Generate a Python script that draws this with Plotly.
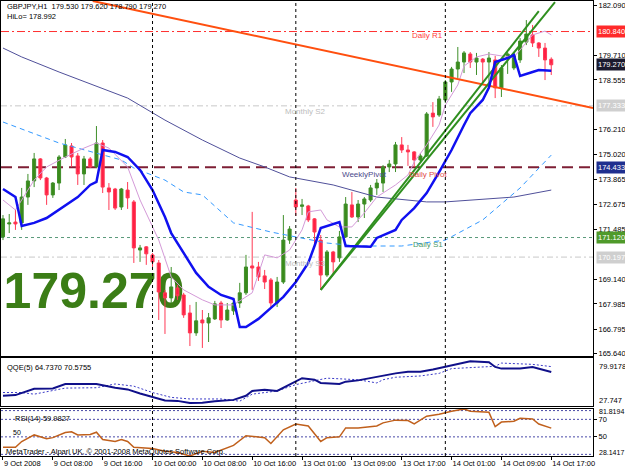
import plotly.graph_objects as go

# ---------------- data ----------------
bar_index = list(range(89))
open_p = [171.15,171.76,171.85,171.81,173.03,173.79,174.83,173.93,173.13,173.69,
          174.92,175.44,174.97,174.12,174.83,174.45,175.58,173.46,173.41,172.56,
          173.36,172.80,170.53,170.68,170.30,169.92,168.51,168.27,168.74,168.41,
          167.56,166.62,167.23,167.09,167.28,168.03,167.23,167.66,168.03,168.51,
          169.78,169.73,169.31,169.12,168.03,169.02,171.00,172.89,172.59,172.61,
          172.00,171.00,169.35,170.44,170.16,171.15,172.66,172.09,172.70,172.89,
          173.46,173.69,174.45,174.59,175.49,175.25,175.16,174.78,174.97,176.99,
          176.90,177.61,178.46,179.07,179.40,179.78,179.40,179.54,179.40,179.50,
          178.18,179.69,179.12,179.50,180.34,180.68,180.30,180.06,179.53]
high_p = [172.18,172.23,172.42,173.46,174.12,175.11,174.87,173.98,173.74,175.01,
          175.77,175.58,175.11,174.97,174.92,176.38,175.72,173.69,173.46,173.46,
          173.74,172.89,170.77,170.72,170.39,170.06,168.65,169.73,168.88,168.51,
          167.94,168.08,167.70,167.56,168.13,168.13,168.03,168.13,168.98,170.30,
          172.33,169.97,169.59,169.21,169.26,172.18,171.66,173.46,172.94,172.66,
          172.04,171.24,170.53,170.49,171.43,173.03,173.27,172.89,173.03,173.60,
          173.88,174.54,174.78,175.63,175.86,175.49,175.20,175.11,177.04,177.51,
          177.80,178.55,179.17,180.11,179.92,179.87,179.83,179.59,179.87,179.69,
          179.26,179.87,179.87,180.53,181.38,181.15,180.34,180.30,179.62]
low_p = [171.00,171.33,171.48,171.48,172.66,173.50,173.83,172.66,172.99,173.36,
         174.87,174.45,173.60,173.60,174.40,174.40,173.22,172.42,172.42,172.42,
         172.47,169.92,169.97,169.83,169.73,167.23,166.57,168.03,168.18,167.33,
         166.00,166.48,165.91,166.19,167.23,166.85,167.19,167.47,167.80,168.41,
         168.65,169.07,168.69,167.80,167.84,168.93,170.82,172.14,172.18,171.85,
         170.68,168.65,169.26,169.40,169.97,171.10,172.04,171.85,172.04,172.80,
         173.13,173.27,174.21,174.21,175.11,174.50,174.45,174.68,174.92,176.34,
         176.81,177.47,177.99,178.65,178.88,179.12,178.79,178.46,178.36,177.70,
         177.75,178.84,179.02,179.36,180.20,180.11,179.64,178.55,178.79]
close_p = [172.00,171.81,171.76,173.03,173.79,174.83,173.93,173.13,173.69,174.92,
           175.49,174.92,174.12,174.83,174.45,175.58,173.50,173.27,172.51,173.41,
           172.99,170.63,170.63,170.35,169.97,168.55,168.27,168.79,168.37,167.47,
           166.62,167.19,167.09,167.33,167.99,167.23,167.70,168.03,168.51,169.73,
           169.68,169.26,169.02,168.03,169.02,171.00,171.52,172.56,172.66,171.95,
           171.38,169.35,170.44,169.97,171.15,172.70,172.09,172.70,172.94,173.46,
           173.69,174.45,174.59,175.49,175.25,175.16,174.78,174.97,176.95,176.81,
           177.66,178.46,179.07,179.40,179.83,179.40,179.59,179.40,179.59,178.18,
           179.12,179.78,179.73,180.39,180.72,180.30,180.06,179.50,179.27]

tick_idx = [0, 8, 16, 24, 32, 40, 48, 56, 64, 72, 80, 88]
tick_txt = ["9 Oct 2008", "9 Oct 08:00", "9 Oct 16:00", "10 Oct 00:00", "10 Oct 08:00",
            "10 Oct 16:00", "13 Oct 01:00", "13 Oct 09:00", "13 Oct 17:00",
            "14 Oct 01:00", "14 Oct 09:00", "14 Oct 17:00"]
day_sep = [24, 47, 71]
price_ticks = [182.090, 179.710, 178.555, 176.210, 175.020, 173.865, 172.675,
               171.485, 169.140, 167.985, 166.795, 165.640]

# HiLo activator (thick blue)
hilo_x = [0, 2, 3, 5, 7, 9, 12, 14, 15, 16, 18, 20, 22, 24, 26, 27, 29, 31, 33, 35, 37, 38,
          39, 41, 43, 45, 47, 49, 50, 51, 54, 55, 59, 60, 63, 64, 66, 68, 70, 72, 74, 75,
          77, 78, 79, 81, 82, 83, 85, 86, 88]
hilo_y = [173.41, 173.03, 171.66, 171.81, 172.04, 172.42, 173.03, 173.60, 173.74, 175.25,
          175.16, 174.92, 174.31, 173.36, 172.09, 171.33, 170.39, 169.45, 168.79, 168.41,
          168.22, 166.90, 166.90, 167.28, 167.80, 168.32, 169.02, 169.92, 170.72, 171.57,
          171.85, 170.72, 170.68, 171.10, 171.48, 171.95, 172.51, 173.22, 174.21, 175.25,
          176.43, 176.99, 177.61, 178.20, 179.40, 179.59, 179.73, 178.74, 178.93, 179.02,
          178.99]
# plum average
plum_x = [0, 2, 5, 7, 10, 13, 15, 17, 20, 22, 25, 27, 29, 32, 34, 37, 40, 42, 44, 46, 48,
          49, 51, 52, 54, 56, 58, 60, 63, 65, 66, 68, 70, 71, 73, 74, 76, 78, 80, 82, 83,
          85, 87, 88]
plum_y = [172.89, 172.42, 173.83, 174.45, 174.92, 175.34, 175.58, 175.34, 174.45, 172.89,
          171.00, 169.26, 168.65, 168.18, 167.94, 167.94, 168.51, 170.30, 170.16, 170.53,
          171.48, 172.33, 172.42, 171.95, 171.62, 171.62, 172.28, 173.03, 173.60, 174.07,
          174.68, 175.49, 176.43, 177.37, 178.32, 179.21, 179.64, 179.78, 179.69, 179.64,
          179.97, 180.68, 180.86, 180.68]
# slow average (dark slate blue)
slate_x = [0, 3, 9, 20, 26, 32, 38, 42, 46, 49, 53, 60, 68, 71, 77, 82, 88]
slate_y = [180.06, 179.64, 178.93, 177.70, 176.66, 175.72, 174.87, 174.45, 173.98, 173.83,
           173.60, 173.03, 172.80, 172.80, 172.94, 173.03, 173.36]
# light blue dashed band
lblue_x = [0, 9, 19, 21, 26, 29, 32, 37, 43, 48, 52, 57, 64, 71, 77, 83, 88]
lblue_y = [176.57, 175.58, 174.78, 174.40, 173.83, 173.27, 173.13, 171.81, 171.38, 171.10,
           170.86, 170.72, 170.72, 171.00, 171.95, 173.46, 175.01]
# trend lines (anchor points)
orange_x = [14.4, 94.7]
orange_y = [182.28, 177.23]
green1_x = [51, 86]
green1_y = [168.65, 181.80]
green2_x = [51, 88.6]
green2_y = [168.65, 182.23]

daily_r1 = 180.840
monthly_s2 = 177.333
pivot = 174.433
daily_s1 = 171.120
monthly_s3 = 170.197
last_price = 179.270

qqe_x = [0, 2, 5, 8, 10, 12, 15, 18, 20, 22, 24, 26, 28, 30, 32, 34, 37, 39, 40, 42, 44, 46,
         48, 50, 51, 54, 55, 57, 60, 63, 65, 67, 69, 71, 73, 75, 78, 79, 80, 83, 85, 87, 88]
qqe_y = [38.9, 39.6, 46.5, 46.9, 51.7, 51.4, 51.7, 47.6, 45.8, 41.3, 37.8, 33.7, 33.3, 30.9,
         31.2, 33.0, 34.4, 38.9, 44.1, 45.5, 44.1, 51.0, 58.0, 56.3, 52.8, 51.7, 54.2, 55.6,
         59.7, 63.2, 64.9, 64.9, 67.4, 70.2, 73.7, 76.4, 75.4, 70.2, 68.4, 68.4, 70.2, 66.7,
         64.737]
qsig_x = [0, 3, 5, 8, 10, 15, 18, 21, 24, 27, 30, 35, 38, 40, 44, 47, 52, 57, 60, 61, 63,
          67, 70, 72, 76, 79, 80, 85, 88]
qsig_y = [42.4, 42.4, 40.6, 44.1, 47.2, 47.6, 51.7, 49.3, 42.4, 37.1, 35.4, 35.4, 33.0, 40.6,
          44.1, 51.0, 58.0, 56.3, 52.8, 56.3, 59.0, 60.4, 63.2, 68.4, 70.2, 70.9, 74.4, 73.0,
          70.5755]
rsi_x = [0, 2, 3, 5, 7, 8, 10, 11, 12, 14, 15, 16, 18, 19, 20, 21, 24, 26, 28, 30, 32, 34,
         37, 39, 42, 43, 45, 47, 49, 51, 52, 54, 55, 57, 60, 61, 63, 65, 66, 68, 70, 72, 74,
         75, 78, 79, 80, 82, 83, 85, 86, 88]
rsi_y = [38.0, 38.0, 44.7, 52.2, 47.8, 49.1, 54.9, 55.8, 52.2, 52.7, 55.3, 46.9, 44.7, 46.9,
         44.7, 38.0, 36.7, 33.6, 32.2, 28.2, 33.6, 32.2, 40.2, 51.3, 49.1, 42.4, 58.0, 64.7,
         62.4, 44.7, 49.1, 50.0, 60.2, 60.2, 62.4, 66.0, 69.1, 68.7, 64.7, 73.6, 75.8, 79.3,
         81.8, 79.3, 78.0, 61.6, 66.9, 67.8, 71.3, 70.4, 64.7, 59.98]
rsi_levels = [80, 70, 50, 30]

# ---------------- layout helpers ----------------
def fx(px):
    return (px - 1) / 592.0

def fy(py):
    return (456 - py) / 455.0

FONT = "Liberation Sans"
XR = [-0.32, 94.7]
YR = [165.53, 182.28]

fig = go.Figure()

# big price label (under candles)
fig.add_trace(go.Scatter(x=[14.6], y=[168.40], mode="text", text=["179.270"],
                         textposition="middle center",
                         textfont=dict(family=FONT, size=50, color="#3b7d16", weight="bold"),
                         xaxis="x", yaxis="y", hoverinfo="skip", showlegend=False))

fig.add_trace(go.Candlestick(
    x=bar_index, open=open_p, high=high_p, low=low_p, close=close_p,
    increasing=dict(line=dict(color="#3f8f2a", width=1), fillcolor="#3a8a1a"),
    decreasing=dict(line=dict(color="#ff3a55", width=1), fillcolor="#ff1f44"),
    whiskerwidth=0, xaxis="x", yaxis="y4", showlegend=False))

fig.add_trace(go.Scatter(x=slate_x, y=slate_y, mode="lines",
                         line=dict(color="#50509a", width=1), xaxis="x", yaxis="y4"))
fig.add_trace(go.Scatter(x=lblue_x, y=lblue_y, mode="lines",
                         line=dict(color="#3399ff", width=1, dash="5px,4px"), xaxis="x", yaxis="y4"))
fig.add_trace(go.Scatter(x=plum_x, y=plum_y, mode="lines",
                         line=dict(color="#d49ad8", width=1), xaxis="x", yaxis="y4"))
fig.add_trace(go.Scatter(x=orange_x, y=orange_y, mode="lines",
                         line=dict(color="#ff4f0f", width=2), xaxis="x", yaxis="y4"))
fig.add_trace(go.Scatter(x=green1_x, y=green1_y, mode="lines",
                         line=dict(color="#2f8f1f", width=2), xaxis="x", yaxis="y4"))
fig.add_trace(go.Scatter(x=green2_x, y=green2_y, mode="lines",
                         line=dict(color="#2f8f1f", width=2), xaxis="x", yaxis="y4"))
fig.add_trace(go.Scatter(x=hilo_x, y=hilo_y, mode="lines",
                         line=dict(color="#1010f0", width=2.5), xaxis="x", yaxis="y4"))

# QQE
fig.add_trace(go.Scatter(x=qsig_x, y=qsig_y, mode="lines",
                         line=dict(color="#3a3ac8", width=1, dash="2px,2px"), xaxis="x2", yaxis="y2"))
fig.add_trace(go.Scatter(x=qqe_x, y=qqe_y, mode="lines",
                         line=dict(color="#10108a", width=2), xaxis="x2", yaxis="y2"))
# RSI
fig.add_trace(go.Scatter(x=rsi_x, y=rsi_y, mode="lines",
                         line=dict(color="#c0601c", width=1.5), xaxis="x3", yaxis="y3"))

shapes = []
for d in day_sep:
    shapes.append(dict(type="line", xref="x", yref="paper", x0=d, x1=d, y0=0, y1=1,
                       line=dict(color="black", width=1, dash="3px,3px"), layer="above"))
level_styles = [
    (daily_r1, "#ff3030", 1, "8px,3px,2px,3px"),
    (monthly_s2, "#c8c8c8", 1, "6px,3px,2px,3px"),
    (monthly_s3, "#c8c8c8", 1, "6px,3px,2px,3px"),
    (daily_s1, "#5a9a7a", 1, "3px,3px"),
    (pivot, "#7e1f35", 2, "11px,6px"),
]
for val, col, w, dash in level_styles:
    shapes.append(dict(type="line", xref="x domain", yref="y", x0=0, x1=1, y0=val, y1=val,
                       line=dict(color=col, width=w, dash=dash), layer="below"))
for lv in rsi_levels:
    shapes.append(dict(type="line", xref="x3 domain", yref="y3", x0=0, x1=1, y0=lv, y1=lv,
                       line=dict(color="#4a4aa8", width=1, dash="2px,2px"), layer="below"))

ann = []
def txt(x, y, s, color="black", size=7.5, xa="left", ya="middle"):
    ann.append(dict(xref="paper", yref="paper", x=fx(x), y=fy(y), text=s, showarrow=False,
                    xanchor=xa, yanchor=ya, font=dict(family=FONT, size=size, color=color)))

txt(5, 7, "GBPJPY,H1\u00a0\u00a0179.530 179.620 178.790 179.270")
txt(5, 17, "HiLo= 178.992")
txt(410, 36, "Daily R1", "#ff4040", 8)
txt(283, 111, "Monthly S2", "#bdbdbd", 8)
txt(340, 174, "WeeklyPivot", "#4a4a8a", 8)
txt(407, 174, "Daily Pivot", "#e04a4a", 8)
txt(411, 244, "Daily S1", "#4a9a6a", 8)
txt(283, 263, "Monthly S3", "#bdbdbd", 8)
txt(5, 367, "QQE(5) 64.7370 70.5755")
txt(13, 418, "RSI(14) 59.9827")
txt(4, 451, "MetaTrader - Alpari UK, \u00a9 2001-2008 MetaQuotes Software Corp.")
txt(11, 432, "50", size=7)
txt(597, 366, "79.9178")
txt(597, 400, "27.747")
txt(597, 411, "81.8194", size=7)
txt(597, 452, "28.1417", size=7)

boxes = [(daily_r1, "#ff2a2a"), (last_price, "#1a1a2e"), (monthly_s2, "#cfcfcf"),
         (pivot, "#1f2f8f"), (daily_s1, "#4f9a2a"), (monthly_s3, "#cfcfcf")]
for val, col in boxes:
    ann.append(dict(xref="paper", yref="y", x=1, y=val, xanchor="left", yanchor="middle",
                    xshift=3, text="%.3f" % val, showarrow=False, bgcolor=col, borderpad=1,
                    font=dict(family=FONT, size=7.5, color="white")))

axis_common = dict(showgrid=False, zeroline=False, showline=True, mirror=True,
                   linecolor="black", linewidth=1)

fig.update_layout(
    width=625, height=469,
    margin=dict(l=1, r=32, t=1, b=13, autoexpand=False),
    paper_bgcolor="white", plot_bgcolor="rgba(0,0,0,0)",
    showlegend=False,
    font=dict(family=FONT, size=7.5, color="black"),
    xaxis=dict(range=XR, domain=[0, 1], anchor="y", showticklabels=False, ticks="",
               rangeslider=dict(visible=False), **axis_common),
    xaxis2=dict(range=XR, domain=[0, 1], anchor="y2", matches="x", showticklabels=False,
                ticks="", **axis_common),
    xaxis3=dict(range=XR, domain=[0, 1], anchor="y3", matches="x", tickmode="array",
                tickvals=tick_idx, ticktext=tick_txt, ticks="outside", ticklen=3,
                tickcolor="black", ticklabelposition="outside right", tickangle=0,
                automargin=False,
                tickfont=dict(family=FONT, size=7.5, color="black"), **axis_common),
    yaxis=dict(domain=[fy(356), 1], range=YR, side="right", anchor="x", tickmode="array",
               tickvals=price_ticks, ticktext=["%.3f" % v for v in price_ticks],
               ticks="outside", ticklen=3, tickcolor="black", automargin=False,
               tickfont=dict(family=FONT, size=7.5, color="black"), **axis_common),
    yaxis4=dict(domain=[fy(356), 1], range=YR, overlaying="y", anchor="x", visible=False),
    yaxis2=dict(domain=[fy(406), fy(358)], range=[27.747, 79.9178], side="right", anchor="x2",
                showticklabels=False, ticks="", automargin=False, **axis_common),
    yaxis3=dict(domain=[0, fy(409)], range=[28.1417, 81.8194], side="right", anchor="x3",
                tickmode="array", tickvals=[70, 50], ticktext=["70", "50"],
                ticks="outside", ticklen=3, tickcolor="black", automargin=False,
                tickfont=dict(family=FONT, size=7.5, color="black"), **axis_common),
    shapes=shapes,
    annotations=ann,
)

fig.write_html("out.html")
